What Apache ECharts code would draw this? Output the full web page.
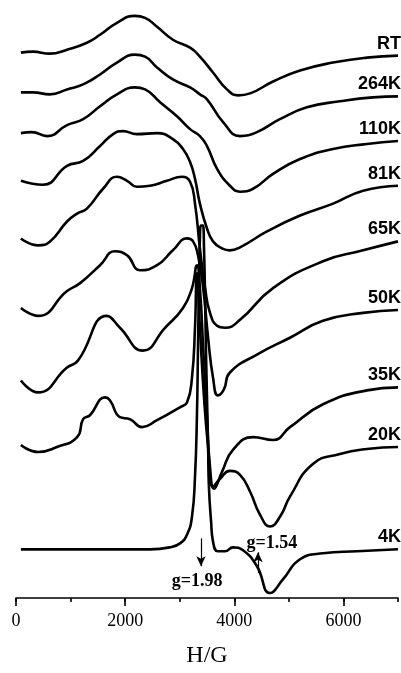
<!DOCTYPE html>
<html><head><meta charset="utf-8">
<script src="https://cdn.jsdelivr.net/npm/echarts@6/dist/echarts.min.js"></script>
<style>html,body{margin:0;padding:0;background:#fff}#c{width:401px;height:673px}</style>
</head><body><div id="c"></div>
<script>
// Spectrum names (top to bottom)
const labels = ['RT','264K','110K','81K','65K','50K','35K','20K','4K'];

// Magnetic field (G) sample positions and stacked intensities (a.u.) for each spectrum
const fieldRT = [90,310,620,935,1300,1540,1850,2180,2365,2585,2875,3190,3370,3610,3865,4070,4290,4710,5205,5810,6430,7000];
const valRT   = [549,550,548,552,559,567,579,586,584,575,562,554,545,529,512,506,508,520,531,539,544,546];

const field264 = [90,310,620,935,1230,1540,1850,2180,2365,2585,2875,3190,3370,3500,3795,4105,4415,4835,5330,5935,6540,7000];
const val264   = [509,509,507,512,517,527,539,547,545,534,522,514,507,502,479,465,469,482,494,500,504,505];

const field110 = [90,290,570,935,1230,1540,1850,2180,2365,2640,2950,3190,3370,3500,3685,3920,4105,4345,4710,5205,5810,6430,7000];
const val110   = [468,469,465,476,482,495,507,514,512,499,485,472,465,455,432,415,409,412,427,442,452,457,460];

const field81 = [90,495,935,1230,1540,1780,1960,2215,2585,2875,3060,3190,3280,3370,3500,3610,3775,3920,4105,4600,5205,5810,6360,7000];
const val81   = [420,416,435,440,455,467,470,467,468,462,452,439,422,397,372,359,352,350,353,369,385,397,410,415];

const field65 = [90,405,625,935,1120,1300,1595,1850,2035,2215,2455,2765,3040,3190,3280,3370,3465,3555,3685,3830,4105,4710,5625,6360,7000];
const val65   = [362,355,359,379,387,392,412,424,420,414,415,420,424,419,397,352,312,287,274,272,280,312,339,350,359];

const field50 = [90,405,935,1175,1540,1815,2035,2275,2585,2875,3135,3245,3335,3430,3520,3610,3700,3810,3920,4415,5020,5625,6360,7000];
const val50   = [292,284,309,317,335,349,345,330,335,350,362,359,345,312,262,222,204,210,227,245,262,279,287,290];

const field35 = [90,405,935,1135,1665,1905,2325,2730,3060,3225,3315,3370,3430,3500,3555,3630,3775,3975,4345,4710,5020,5625,6430,7000];
const val35   = [219,207,232,239,284,272,249,272,292,312,335,312,252,182,132,110,127,149,162,159,172,195,209,212];

const field20 = [90,405,750,1120,1230,1355,1630,1720,1905,2090,2310,2585,3005,3135,3225,3280,3315,3370,3445,3520,3610,3740,3920,4105,4290,4470,4655,4840,5020,5440,5935,6430,7000];
const val20   = [154,147,152,162,180,184,202,199,182,180,172,179,192,197,222,272,327,272,202,152,112,120,128,124,107,84,72,82,102,135,145,150,152];

const field4 = [90,2455,2820,3005,3135,3225,3280,3315,3335,3355,3370,3390,3425,3445,3465,3480,3500,3520,3535,3575,3610,3700,3830,3975,4160,4415,4655,4895,5205,5625,6250,7000];
const val4   = [49,49,51,55,64,82,122,182,252,322,362,375,375,352,302,252,202,152,112,77,57,47,47,51,48,32,5,19,39,45,47,49];

const fields = [fieldRT,field264,field110,field81,field65,field50,field35,field20,field4];
const values = [valRT,val264,val110,val81,val65,val50,val35,val20,val4];

// x-axis ticks
const xMin = 0, xMax = 7000, majorStep = 2000, minorStep = 1000;

// g-value annotations
const gMarks = [
  {text:'g=1.98', field:3390, from:60, to:32, tx:3317, ty:17},
  {text:'g=1.54', field:4435, from:25, to:46, tx:4690, ty:55}
];

const chart = echarts.init(document.getElementById('c'), null, {renderer:'canvas'});
const series = labels.map((name, i) => {
  const f = fields[i], v = values[i];
  const s = {
    name: name, type:'line', xAxisIndex:0, yAxisIndex:0,
    data: f.map((x, j) => [x, v[j]]),
    showSymbol:false, smooth:0.5,
    lineStyle:{color:'#000', width:2.6}, itemStyle:{color:'#000'},
    silent:true,
    markPoint:{
      symbol:'circle', symbolSize:0, silent:true, animation:false,
      data:[{coord:[f[f.length-1], v[v.length-1]], label:{show:true, formatter:name, position:'inside', align:'right', offset:[3,-12],
        fontFamily:'Liberation Sans', fontWeight:'bold', fontSize:18, color:'#000'}}]
    }
  };
  if (name === '4K') {
    s.markLine = {
      silent:true, animation:false, symbol:['none','arrow'], symbolSize:[7,10],
      lineStyle:{color:'#000', width:1.2, type:'solid'}, label:{show:false},
      data: gMarks.map(g => [{coord:[g.field, g.from]}, {coord:[g.field, g.to]}])
    };
    s.markPoint.data = s.markPoint.data.concat(gMarks.map(g => ({
      coord:[g.tx, g.ty],
      label:{show:true, formatter:g.text, position:'inside', fontFamily:'Liberation Serif', fontWeight:'bold', fontSize:18, color:'#000'}
    })));
  }
  return s;
});

chart.setOption({
  animation:false,
  backgroundColor:'#fff',
  grid:{left:16, right:3, top:0, bottom:71, containLabel:false},
  xAxis:[
    {type:'value', min:xMin, max:xMax, interval:minorStep, position:'bottom',
     axisLine:{show:true, lineStyle:{color:'#000', width:1.6}},
     axisTick:{show:true, length:4, lineStyle:{color:'#000', width:1.6}},
     axisLabel:{show:false}, splitLine:{show:false}},
    {type:'value', min:xMin, max:xMax, interval:majorStep, position:'bottom',
     axisLine:{show:false},
     axisTick:{show:true, length:8, lineStyle:{color:'#000', width:1.6}},
     axisLabel:{show:true, showMaxLabel:false, margin:14, color:'#000', fontFamily:'Liberation Serif', fontSize:18,
       formatter: v => String(v)},
     splitLine:{show:false},
     name:'H/G', nameLocation:'middle', nameGap:46,
     nameTextStyle:{color:'#000', fontFamily:'Liberation Serif', fontSize:24}}
  ],
  yAxis:{type:'value', min:0, max:602, show:false},
  series: series
});
</script>
</body></html>
